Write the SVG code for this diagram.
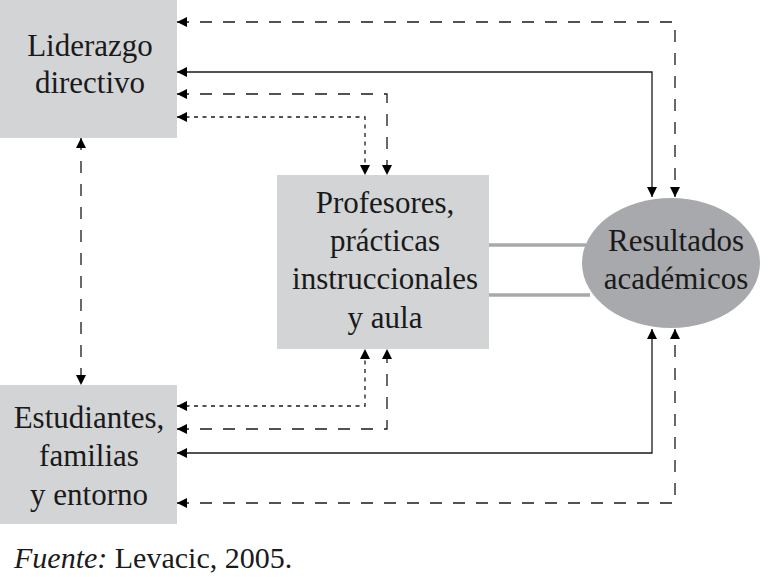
<svg xmlns="http://www.w3.org/2000/svg" width="769" height="577" viewBox="0 0 769 577">
<style>
.box{fill:#d3d4d6}
.ell{fill:#a8a9ac}
.t{font-family:"Liberation Serif","DejaVu Serif",serif;font-size:31px;fill:#1a1a1a;text-anchor:middle}
.c{fill:none;stroke:#1a1a1a;stroke-width:1.3}
.dash{stroke-dasharray:12 11}
.dot{stroke-dasharray:4 4.5}
.dbl{fill:none;stroke:#a8a9ac;stroke-width:3.5}
</style>
<defs>
<marker id="ah" viewBox="0 0 10 10" refX="10" refY="5" markerWidth="10" markerHeight="10" markerUnits="userSpaceOnUse" orient="auto-start-reverse">
<path d="M0,0 L10,5 L0,10 z" fill="#000"/>
</marker>
</defs>
<rect width="769" height="577" fill="#fff"/>
<g id="liderazgo">
<rect class="box" x="0" y="0" width="177" height="138"/>
<text class="t" x="90" y="56">Liderazgo</text>
<text class="t" x="90" y="93">directivo</text>
</g>
<g id="profesores">
<rect class="box" x="277" y="175" width="212" height="174"/>
<text class="t" x="385" y="213">Profesores,</text>
<text class="t" x="385" y="251">prácticas</text>
<text class="t" x="385" y="289">instruccionales</text>
<text class="t" x="385" y="328">y aula</text>
</g>
<g id="estudiantes">
<rect class="box" x="0" y="385" width="177" height="139"/>
<text class="t" x="89" y="428">Estudiantes,</text>
<text class="t" x="89" y="466">familias</text>
<text class="t" x="89" y="505">y entorno</text>
</g>
<g id="resultados">
<ellipse class="ell" cx="671" cy="263" rx="89" ry="65"/>
<text class="t" x="676" y="251">Resultados</text>
<text class="t" x="676" y="289">académicos</text>
</g>
<g id="connectors">
<path class="c dash" d="M177,22 H675 V197" marker-start="url(#ah)" marker-end="url(#ah)"/>
<path class="c" d="M177,72 H652 V197" marker-start="url(#ah)" marker-end="url(#ah)"/>
<path class="c dash" d="M177,94 H387 V175" marker-start="url(#ah)" marker-end="url(#ah)"/>
<path class="c dot" d="M177,117 H365 V175" marker-start="url(#ah)" marker-end="url(#ah)"/>
<path class="c dash" d="M81,138 V385" marker-start="url(#ah)" marker-end="url(#ah)"/>
<path class="c dot" d="M177,406 H365 V349" marker-start="url(#ah)" marker-end="url(#ah)"/>
<path class="c dash" d="M177,429 H387 V349" marker-start="url(#ah)" marker-end="url(#ah)"/>
<path class="c" d="M177,453 H652 V329" marker-start="url(#ah)" marker-end="url(#ah)"/>
<path class="c dash" d="M177,503 H675 V329" marker-start="url(#ah)" marker-end="url(#ah)"/>
<path class="dbl" d="M489,245 H586 M489,295 H590"/>
</g>
<text x="14" y="568" style="font-family:'Liberation Serif','DejaVu Serif',serif;font-size:30px;fill:#1a1a1a"><tspan font-style="italic">Fuente:</tspan> Levacic, 2005.</text>
</svg>
